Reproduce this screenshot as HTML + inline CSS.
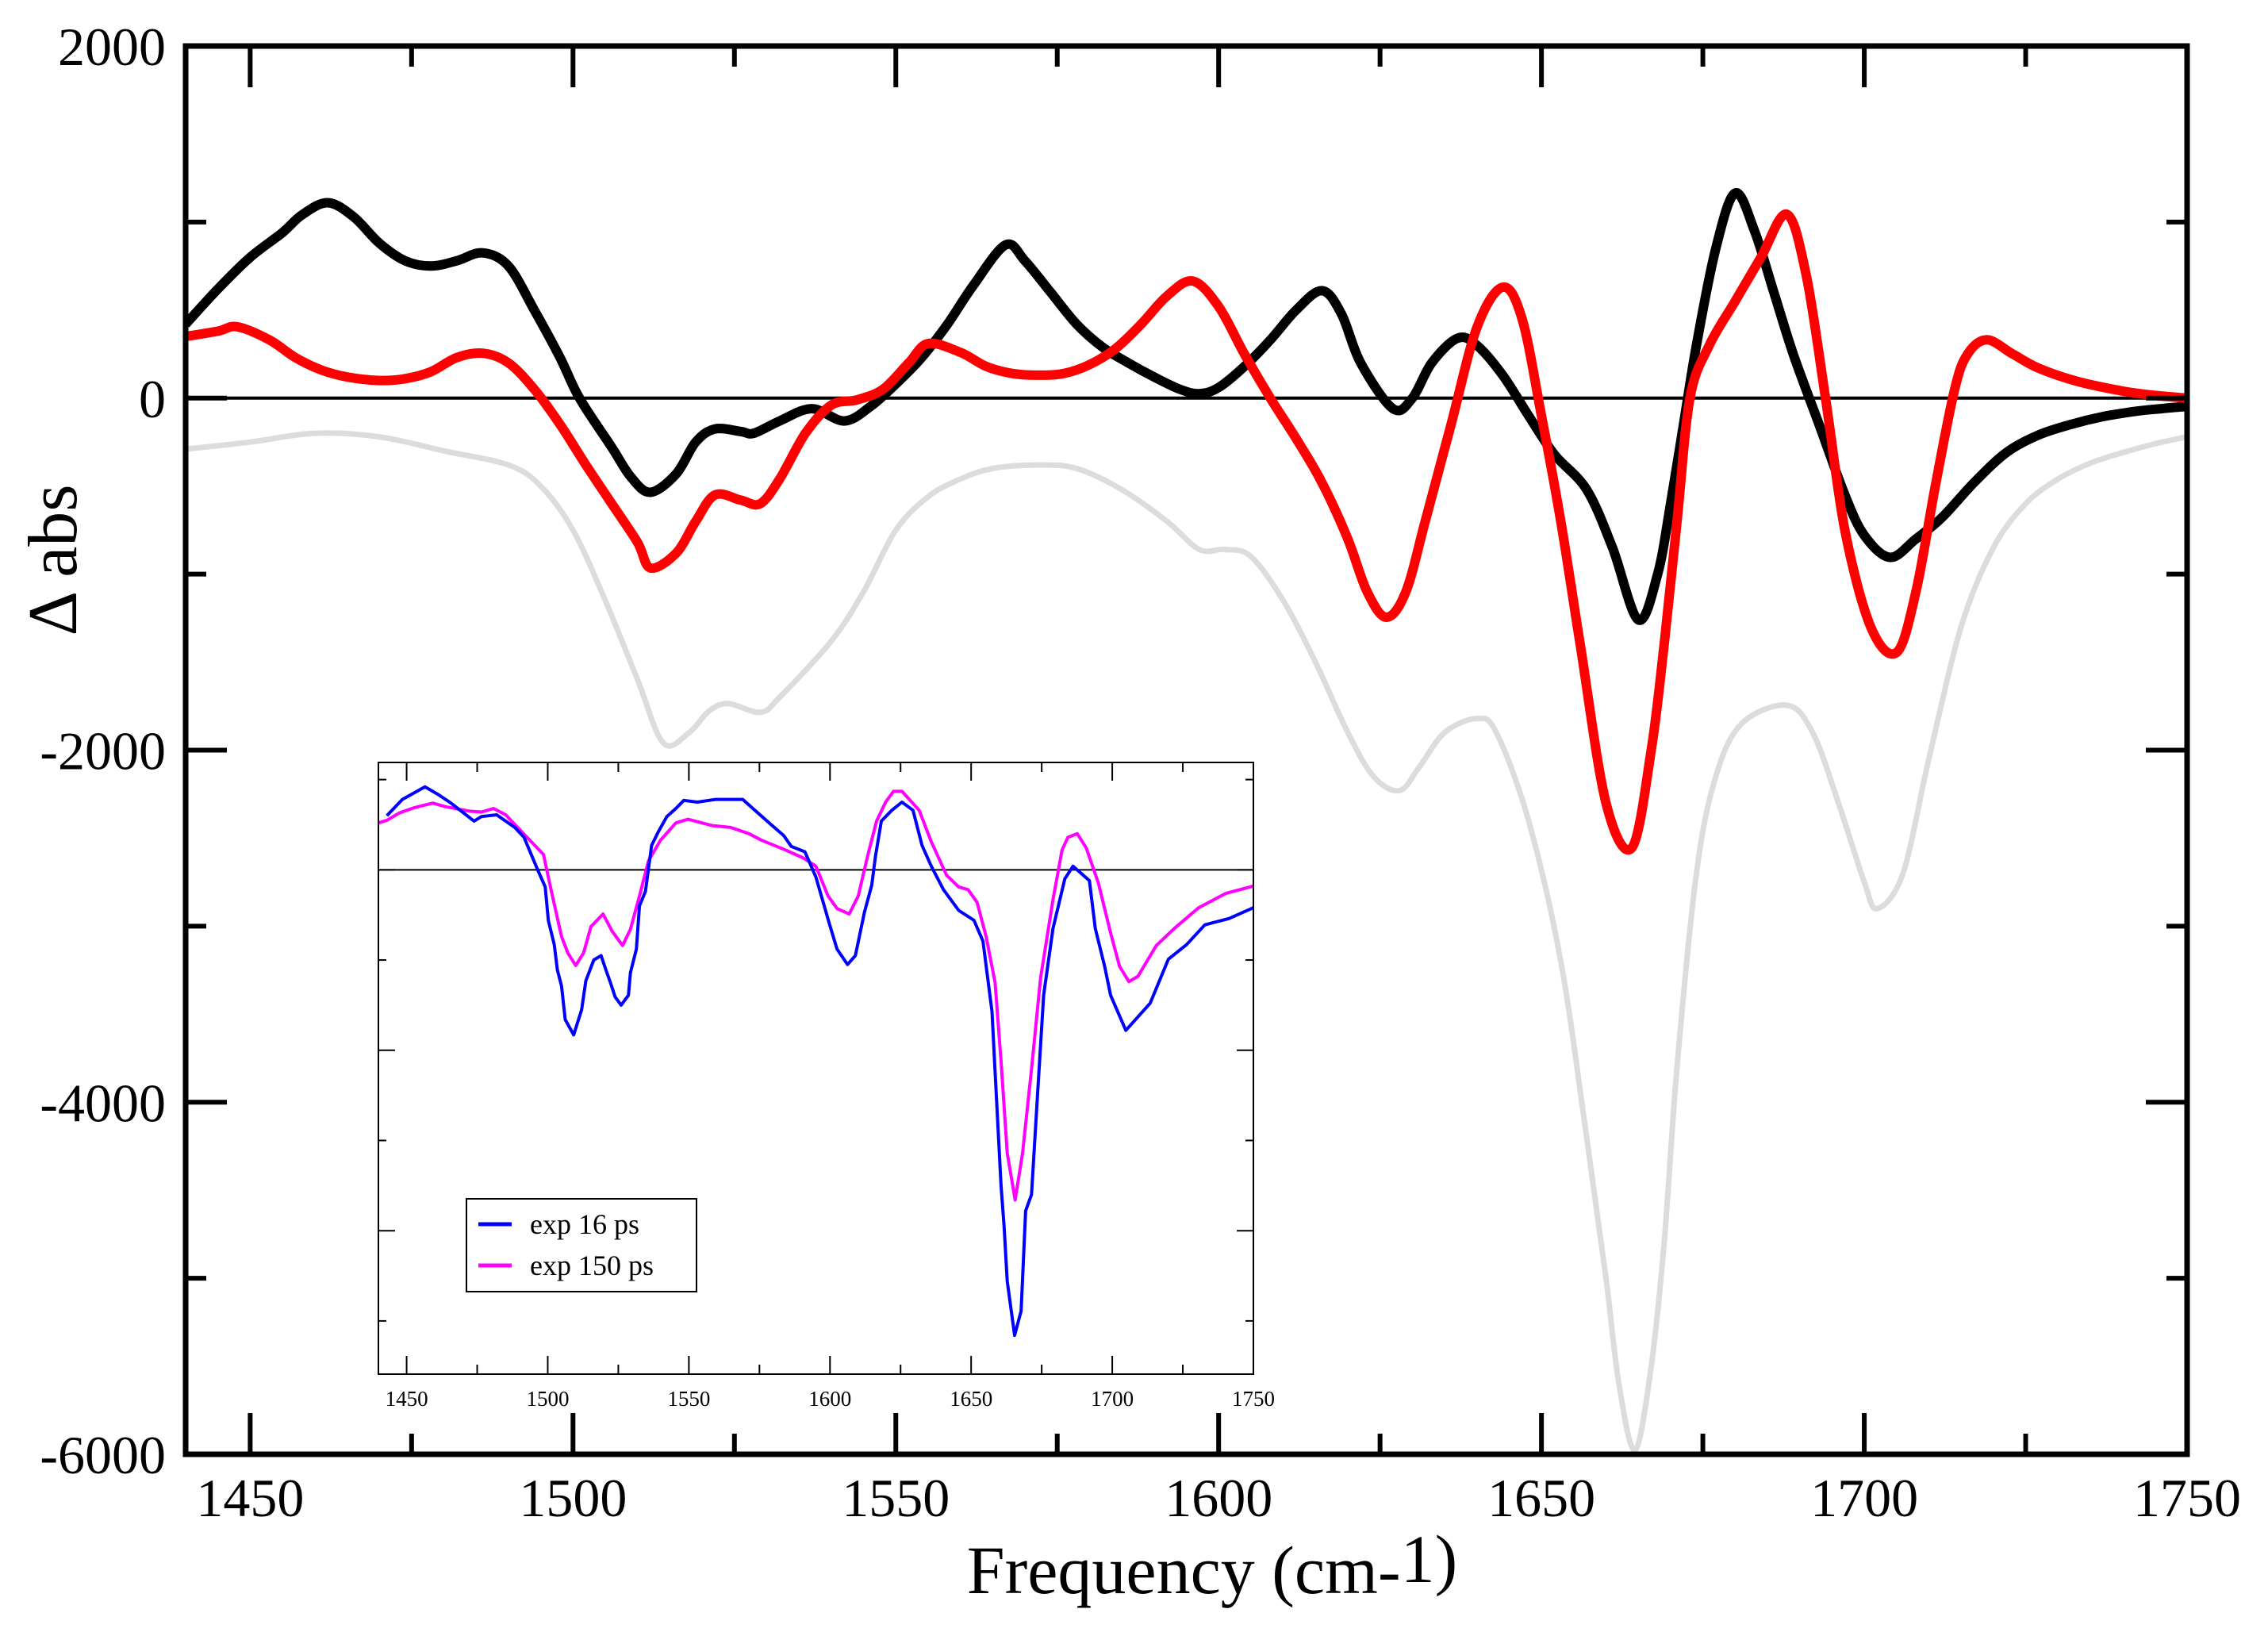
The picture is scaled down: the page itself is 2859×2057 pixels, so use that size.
<!DOCTYPE html>
<html><head><meta charset="utf-8"><style>
html,body{margin:0;padding:0;background:#fff;}
svg{display:block;font-family:"Liberation Serif",serif;}
</style></head><body>
<svg id="chart" width="2859" height="2057" viewBox="0 0 2859 2057" xmlns="http://www.w3.org/2000/svg">
<rect width="2859" height="2057" fill="#fff"/>
<g id="main"></g>
<g id="inset"></g>
<text x="1528" y="2008" font-size="86" text-anchor="middle">Frequency (cm-<tspan dy="-14">1</tspan>)</text>
<text transform="translate(96,706) rotate(-90)" font-size="88" text-anchor="middle">Δ abs</text>
</svg>
<script>
// ---- main chart data ----
const blackFreq = [1440,1445,1450,1455,1458,1462,1466,1470,1474,1478,1482,1486,1490,1494,1498,1501,1506,1509,1512,1516,1519,1522,1526,1528,1532,1537,1542,1546,1550,1554,1558,1562,1567,1570,1574,1578,1582,1586,1590,1594,1597,1600,1604,1608,1612,1616,1619,1622,1627,1630,1633,1637,1640,1644,1648,1652,1657,1661,1665,1668,1670,1672,1674,1677,1680,1683,1686,1689,1693,1697,1700,1704,1708,1712,1717,1722,1727,1732,1737,1742,1746,1750];
const blackVals = [420,620,800,940,1040,1110,1030,880,780,750,780,825,750,500,230,0,-280,-450,-535,-430,-250,-175,-190,-200,-130,-60,-130,-50,80,230,420,640,870,780,600,420,290,200,120,50,25,60,180,330,500,610,480,200,-60,0,200,340,300,130,-100,-320,-520,-850,-1260,-1000,-600,-150,300,850,1165,950,600,250,-150,-550,-780,-905,-800,-680,-480,-310,-210,-150,-105,-75,-60,-47];
const redFreq = [1440,1445,1448,1453,1457,1461,1465,1470,1474,1478,1482,1486,1490,1494,1498,1502,1506,1510,1512,1516,1519,1522,1526,1529,1532,1536,1540,1544,1548,1552,1555,1560,1564,1568,1572,1576,1580,1584,1588,1592,1596,1600,1604,1608,1612,1616,1620,1623,1626,1629,1632,1636,1640,1644,1647,1650,1653,1656,1660,1664,1667,1669,1671,1673,1676,1680,1684,1688,1691,1694,1697,1701,1705,1708,1711,1714,1716,1719,1723,1727,1733,1740,1745,1750];
const redVals = [350,380,405,330,230,160,120,100,110,150,230,255,200,50,-150,-380,-600,-820,-965,-880,-700,-550,-580,-600,-460,-200,-40,-10,50,200,310,260,180,140,130,140,190,280,420,580,665,520,250,0,-230,-480,-800,-1100,-1245,-1100,-700,-150,400,630,450,-100,-700,-1400,-2300,-2555,-2000,-1400,-700,0,300,550,800,1044,700,0,-750,-1300,-1445,-1100,-500,50,250,331,250,170,95,40,15,0];
const grayFreq = [1440,1450,1460,1470,1480,1490,1495,1500,1505,1510,1514,1518,1521,1524,1529,1532,1540,1545,1550,1555,1560,1565,1572,1578,1585,1592,1597,1601,1605,1610,1615,1620,1624,1628,1631,1635,1640,1643,1648,1653,1657,1660,1662,1664.5,1667,1669,1671,1674,1677,1681,1688,1692,1696,1700,1702,1706,1710,1715,1720,1725,1730,1735,1740,1745,1750];
const grayVals = [-290,-250,-200,-220,-300,-380,-500,-750,-1150,-1600,-1960,-1900,-1780,-1735,-1785,-1700,-1380,-1100,-750,-560,-460,-400,-380,-400,-520,-700,-860,-860,-900,-1150,-1500,-1900,-2150,-2230,-2100,-1900,-1820,-1900,-2400,-3200,-4200,-5000,-5600,-5975,-5500,-4800,-3800,-2700,-2150,-1850,-1745,-1900,-2300,-2750,-2900,-2700,-2050,-1300,-850,-600,-460,-370,-310,-260,-220];
const xTickLabels = ["1450","1500","1550","1600","1650","1700","1750"];
const yTickLabels = ["2000","0","-2000","-4000","-6000"];

// ---- inset data ----
const blueFreq = [1443,1448.5,1456.5,1461.4,1465.7,1473.9,1476.5,1481.9,1488.3,1491.6,1496.3,1499.1,1500.2,1502.3,1503.4,1504.9,1506.2,1509.2,1512,1513.5,1516.3,1518.9,1520.6,1522.2,1523.9,1526,1528.6,1529.3,1531.4,1532.5,1534.6,1536.8,1539,1542.2,1545.4,1548.2,1553,1559.4,1569.1,1573.4,1577.7,1583.6,1586.3,1591.1,1595,1599.9,1602.5,1606.2,1609,1612.2,1614.8,1616.1,1618.2,1621.9,1625.5,1629.4,1632.6,1635.9,1640.2,1645.6,1651,1654.2,1657.4,1658.5,1660.6,1661.7,1662.8,1665.4,1667.7,1669.3,1671.4,1673.6,1675.7,1679,1683.2,1686.1,1691.9,1694,1697.3,1699.4,1704.8,1713.4,1719.9,1726.3,1732.8,1741.4,1750];
const blueVals = [0.60,0.78,0.92,0.83,0.74,0.54,0.59,0.61,0.47,0.36,0.01,-0.19,-0.56,-0.83,-1.11,-1.29,-1.66,-1.83,-1.55,-1.23,-1.00,-0.95,-1.11,-1.25,-1.41,-1.50,-1.39,-1.14,-0.88,-0.40,-0.24,0.27,0.41,0.59,0.68,0.77,0.75,0.78,0.78,0.66,0.54,0.38,0.26,0.20,-0.08,-0.61,-0.88,-1.05,-0.95,-0.47,-0.17,0.15,0.54,0.66,0.75,0.66,0.27,0.04,-0.22,-0.45,-0.56,-0.79,-1.57,-2.24,-3.50,-3.96,-4.56,-5.16,-4.89,-3.78,-3.60,-2.45,-1.39,-0.65,-0.10,0.04,-0.12,-0.65,-1.07,-1.39,-1.78,-1.48,-0.99,-0.83,-0.61,-0.54,-0.42];
const magentaFreq = [1440,1443.1,1447.4,1452.8,1459.3,1463.6,1472.2,1476.5,1480.8,1485.1,1490.5,1498.5,1501.3,1504.9,1507.1,1509.9,1512.7,1515.3,1519.6,1522.8,1526.5,1529.3,1532.5,1535.7,1540,1545.4,1549.7,1558.3,1564.8,1571.3,1575.6,1584.2,1590.6,1595,1599.3,1602.5,1606.8,1610,1613.3,1616.5,1619.7,1622.5,1625.5,1631.6,1635.9,1641.3,1645.6,1648.9,1652.1,1655.3,1658.5,1660.6,1662.8,1665.6,1668.2,1671.4,1674.6,1679,1682.2,1684.3,1687.6,1690.8,1695.1,1699.4,1702.6,1705.9,1709.1,1715.6,1722,1730.6,1740.3,1750];
const magentaVals = [0.52,0.55,0.63,0.69,0.74,0.70,0.65,0.64,0.68,0.61,0.43,0.17,-0.24,-0.74,-0.92,-1.06,-0.92,-0.63,-0.49,-0.68,-0.84,-0.66,-0.29,0.10,0.33,0.52,0.56,0.49,0.47,0.40,0.33,0.22,0.13,0.04,-0.29,-0.43,-0.49,-0.29,0.15,0.54,0.75,0.87,0.87,0.66,0.31,-0.06,-0.19,-0.22,-0.36,-0.74,-1.25,-2.12,-3.14,-3.66,-3.14,-2.21,-1.20,-0.33,0.22,0.36,0.40,0.24,-0.15,-0.70,-1.07,-1.24,-1.18,-0.84,-0.65,-0.42,-0.26,-0.18];
const insetTickLabels = ["1450","1500","1550","1600","1650","1700","1750"];
const legendLabels = ["exp 16 ps","exp 150 ps"];

const NS = "http://www.w3.org/2000/svg";
function mk(parent, tag, attrs){ const e=document.createElementNS(NS,tag); for(const k in attrs) e.setAttribute(k,attrs[k]); parent.appendChild(e); return e; }

// main axes
const M = {l:234, r:2757, t:58, b:1833, x0:1440, x1:1750, y0:-6000, y1:2000};
const mx = f => M.l + (f-M.x0)/(M.x1-M.x0)*(M.r-M.l);
const my = v => M.b - (v-M.y0)/(M.y1-M.y0)*(M.b-M.t);
// inset axes
const I = {l:477, r:1580, t:961, b:1732, x0:1440, x1:1750, y0:-5.59, y1:1.19};
const ix = f => I.l + (f-I.x0)/(I.x1-I.x0)*(I.r-I.l);
const iy = v => I.b - (v-I.y0)/(I.y1-I.y0)*(I.b-I.t);

function smoothPath(xs, ys, fx, fy){
  const p = xs.map((x,i)=>[fx(x), fy(ys[i])]);
  let d = "M"+p[0][0].toFixed(1)+","+p[0][1].toFixed(1);
  for(let i=0;i<p.length-1;i++){
    const p0=p[Math.max(0,i-1)], p1=p[i], p2=p[i+1], p3=p[Math.min(p.length-1,i+2)];
    const c1=[p1[0]+(p2[0]-p0[0])/6, p1[1]+(p2[1]-p0[1])/6];
    const c2=[p2[0]-(p3[0]-p1[0])/6, p2[1]-(p3[1]-p1[1])/6];
    d += " C"+c1[0].toFixed(1)+","+c1[1].toFixed(1)+" "+c2[0].toFixed(1)+","+c2[1].toFixed(1)+" "+p2[0].toFixed(1)+","+p2[1].toFixed(1);
  }
  return d;
}
function linePath(xs, ys, fx, fy){
  return xs.map((x,i)=>(i?"L":"M")+fx(x).toFixed(1)+","+fy(ys[i]).toFixed(1)).join(" ");
}

const main = document.getElementById('main');
const clipDefs = mk(main,'defs',{});
const cp = mk(clipDefs,'clipPath',{id:'mclip'});
mk(cp,'rect',{x:M.l,y:M.t-10,width:M.r-M.l,height:M.b-M.t+20});

// zero line
const z = mk(main,'line',{x1:M.l,x2:M.r,y1:my(0),y2:my(0),stroke:'#000','stroke-width':4});



const g1 = mk(main,'path',{d:smoothPath(grayFreq,grayVals,mx,my),fill:'none',stroke:'#dcdcdc','stroke-width':7,'clip-path':'url(#mclip)'});


const b1 = mk(main,'path',{d:smoothPath(blackFreq,blackVals,mx,my),fill:'none',stroke:'#000','stroke-width':12,'clip-path':'url(#mclip)'});


const r1 = mk(main,'path',{d:smoothPath(redFreq,redVals,mx,my),fill:'none',stroke:'#ff0000','stroke-width':12,'clip-path':'url(#mclip)'});



// main frame
const fr = mk(main,'rect',{x:M.l,y:M.t,width:M.r-M.l,height:M.b-M.t,fill:'none',stroke:'#000','stroke-width':7});



// x ticks
for(let f=1450; f<=1750; f+=25){
  const major = (f%50===0);
  const L = major?52:26;
  const x = mx(f);
  const t1 = mk(main,'line',{x1:x,x2:x,y1:M.b,y2:M.b-L,stroke:'#000','stroke-width':6});
  
  
  const t2 = mk(main,'line',{x1:x,x2:x,y1:M.t,y2:M.t+L,stroke:'#000','stroke-width':6});
  
  
}
xTickLabels.forEach(s=>{
  const t = mk(main,'text',{x:mx(+s),y:1911,'font-size':68,'text-anchor':'middle'});
  t.textContent = s;
  
  
});
// y ticks
for(let v=-6000; v<=2000; v+=1000){
  const major = (v%2000===0);
  const L = major?52:26;
  const y = my(v);
  const t1 = mk(main,'line',{x1:M.l,x2:M.l+L,y1:y,y2:y,stroke:'#000','stroke-width':6});
  
  
  const t2 = mk(main,'line',{x1:M.r,x2:M.r-L,y1:y,y2:y,stroke:'#000','stroke-width':6});
  
  
}
yTickLabels.forEach(s=>{
  const t = mk(main,'text',{x:209,y:my(+s)+24,'font-size':68,'text-anchor':'end'});
  t.textContent = s;
  
  
});

// inset
const inset = document.getElementById('inset');
const ibg = mk(inset,'rect',{x:I.l,y:I.t,width:I.r-I.l,height:I.b-I.t,fill:'#fff',stroke:'none'});


const icd = mk(inset,'defs',{});
const icp = mk(icd,'clipPath',{id:'iclip'});
mk(icp,'rect',{x:I.l,y:I.t,width:I.r-I.l,height:I.b-I.t});
const iz = mk(inset,'line',{x1:I.l,x2:I.r,y1:iy(0),y2:iy(0),stroke:'#000','stroke-width':2});


const mg = mk(inset,'path',{d:linePath(magentaFreq,magentaVals,ix,iy),fill:'none',stroke:'#ff00ff','stroke-width':4,'stroke-linejoin':'round','clip-path':'url(#iclip)'});


const bl = mk(inset,'path',{d:linePath(blueFreq,blueVals,ix,iy),fill:'none',stroke:'#0000ff','stroke-width':4,'stroke-linejoin':'round','clip-path':'url(#iclip)'});


const ifr = mk(inset,'rect',{x:I.l,y:I.t,width:I.r-I.l,height:I.b-I.t,fill:'none',stroke:'#000','stroke-width':2});


for(let f=1450; f<=1750; f+=25){
  const L = (f%50===0)?23:12;
  const x = ix(f);
  const a = mk(inset,'line',{x1:x,x2:x,y1:I.b,y2:I.b-L,stroke:'#000','stroke-width':2});
  
  
  const b = mk(inset,'line',{x1:x,x2:x,y1:I.t,y2:I.t+L,stroke:'#000','stroke-width':2});
  
  
}
for(let v=-5; v<=1; v+=1){
  const L = (v%2===0)?21:10;
  const y = iy(v);
  const a = mk(inset,'line',{x1:I.l,x2:I.l+L,y1:y,y2:y,stroke:'#000','stroke-width':2});
  
  
  const b = mk(inset,'line',{x1:I.r,x2:I.r-L,y1:y,y2:y,stroke:'#000','stroke-width':2});
  
  
}
insetTickLabels.forEach(s=>{
  const t = mk(inset,'text',{x:ix(+s),y:1772,'font-size':27,'text-anchor':'middle'});
  t.textContent = s;
  
  
});
// legend
const lg = mk(inset,'rect',{x:588,y:1511,width:290,height:117,fill:'#fff',stroke:'#000','stroke-width':2});


const lcols = ['#0000ff','#ff00ff'];
legendLabels.forEach((s,i)=>{
  const y = 1543 + i*52;
  const ln = mk(inset,'line',{x1:603,x2:645,y1:y,y2:y,stroke:lcols[i],'stroke-width':5});
  
  
  const t = mk(inset,'text',{x:668,y:y+12,'font-size':36});
  t.textContent = s;
  
  
});
</script>
</body></html>
